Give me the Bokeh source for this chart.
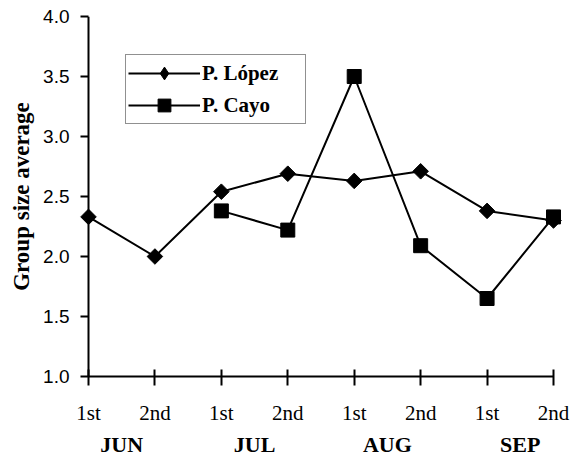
import math
from bokeh.plotting import figure
from bokeh.models import (Range1d, LinearAxis, FixedTicker, Legend, LegendItem,
                          PrintfTickFormatter, Span)
from bokeh.embed import file_html
from bokeh.resources import INLINE

# ---- data ----
periods = ["1st", "2nd", "1st", "2nd", "1st", "2nd", "1st", "2nd"]
months = ["JUN", "JUL", "AUG", "SEP"]
lopez = [2.33, 2.00, 2.54, 2.69, 2.63, 2.71, 2.38, 2.30]
cayo = [None, None, 2.38, 2.22, 3.50, 2.09, 1.65, 2.33]
y_ticks = [1.0, 1.5, 2.0, 2.5, 3.0, 3.5, 4.0]
series_names = ["P. López", "P. Cayo"]
y_title = "Group size average"

x_pos = list(range(len(periods)))
cayo_x = [i for i, v in enumerate(cayo) if v is not None]
cayo_y = [v for v in cayo if v is not None]
month_pos = [2 * i + 0.5 for i in range(len(months))]

pad = 0.1505
p = figure(width=572, height=459, output_backend="svg", toolbar_location=None,
           x_range=Range1d(-pad, len(periods) - 1 + pad),
           y_range=Range1d(y_ticks[0], y_ticks[-1]),
           min_border_left=78, min_border_right=9, min_border_top=16,
           min_border_bottom=83)
p.outline_line_color = None
p.grid.visible = False
p.background_fill_color = "white"
p.border_fill_color = "white"

# x axis (periods)
xa = p.xaxis[0]
xa.ticker = FixedTicker(ticks=x_pos)
xa.major_label_overrides = {i: lab for i, lab in enumerate(periods)}
xa.bounds = (0, len(periods) - 1)
xa.axis_line_width = 2
xa.axis_line_color = "black"
xa.major_tick_line_width = 2
xa.major_tick_line_color = "black"
xa.major_tick_in = 7
xa.major_tick_out = 9
xa.minor_tick_line_color = None
xa.major_label_text_font = "Liberation Serif"
xa.major_label_text_font_size = "21px"
xa.major_label_text_color = "black"
xa.major_label_standoff = 15

# month axis
ma = LinearAxis(ticker=FixedTicker(ticks=month_pos),
                major_label_overrides=dict(zip(month_pos, months)),
                axis_line_color=None, major_tick_line_color=None,
                minor_tick_line_color=None, major_tick_in=0, major_tick_out=0,
                major_label_standoff=4,
                major_label_text_font="Liberation Serif",
                major_label_text_font_style="bold",
                major_label_text_font_size="22px",
                major_label_text_color="black")
p.add_layout(ma, "below")

# y axis: ticks reach from the frame edge to the x = 0 line
ya = p.yaxis[0]
ya.ticker = FixedTicker(ticks=y_ticks)
ya.formatter = PrintfTickFormatter(format="%.1f")
ya.axis_line_color = None
ya.major_tick_line_width = 2
ya.major_tick_line_color = "black"
ya.major_tick_in = 10
ya.major_tick_out = -2
ya.minor_tick_line_color = None
ya.major_label_text_font = "Liberation Sans"
ya.major_label_text_font_size = "19px"
ya.major_label_text_color = "black"
ya.major_label_standoff = 9
ya.axis_label = y_title
ya.axis_label_text_font = "Liberation Serif"
ya.axis_label_text_font_style = "bold"
ya.axis_label_text_font_size = "23px"
ya.axis_label_text_color = "black"
ya.axis_label_standoff = 6

p.add_layout(Span(location=0, dimension="height", line_color="black", line_width=2))

# series
l1 = p.line(x_pos, lopez, line_color="black", line_width=2)
s1 = p.scatter(x_pos, lopez, marker="square", angle=math.pi / 4, size=11,
               fill_color="black", line_color="black")
s1_key = p.scatter(x_pos, lopez, marker="diamond", size=14, visible=False,
                   fill_color="black", line_color="black")
l2 = p.line(cayo_x, cayo_y, line_color="black", line_width=2)
s2 = p.scatter(cayo_x, cayo_y, marker="square", size=14,
               fill_color="black", line_color="black")

legend = Legend(items=[LegendItem(label=series_names[0], renderers=[l1, s1_key]),
                       LegendItem(label=series_names[1], renderers=[l2, s2])],
                location=(47, 252), orientation="vertical",
                border_line_color="#222222", border_line_width=1,
                background_fill_color="white", background_fill_alpha=1,
                padding=2, spacing=0, margin=0,
                glyph_width=72, glyph_height=32, label_standoff=2,
                label_width=101,
                label_text_font="Liberation Serif", label_text_font_style="bold",
                label_text_font_size="21px", label_text_color="black")
p.add_layout(legend)

open("out.html", "w").write(file_html(p, INLINE))
